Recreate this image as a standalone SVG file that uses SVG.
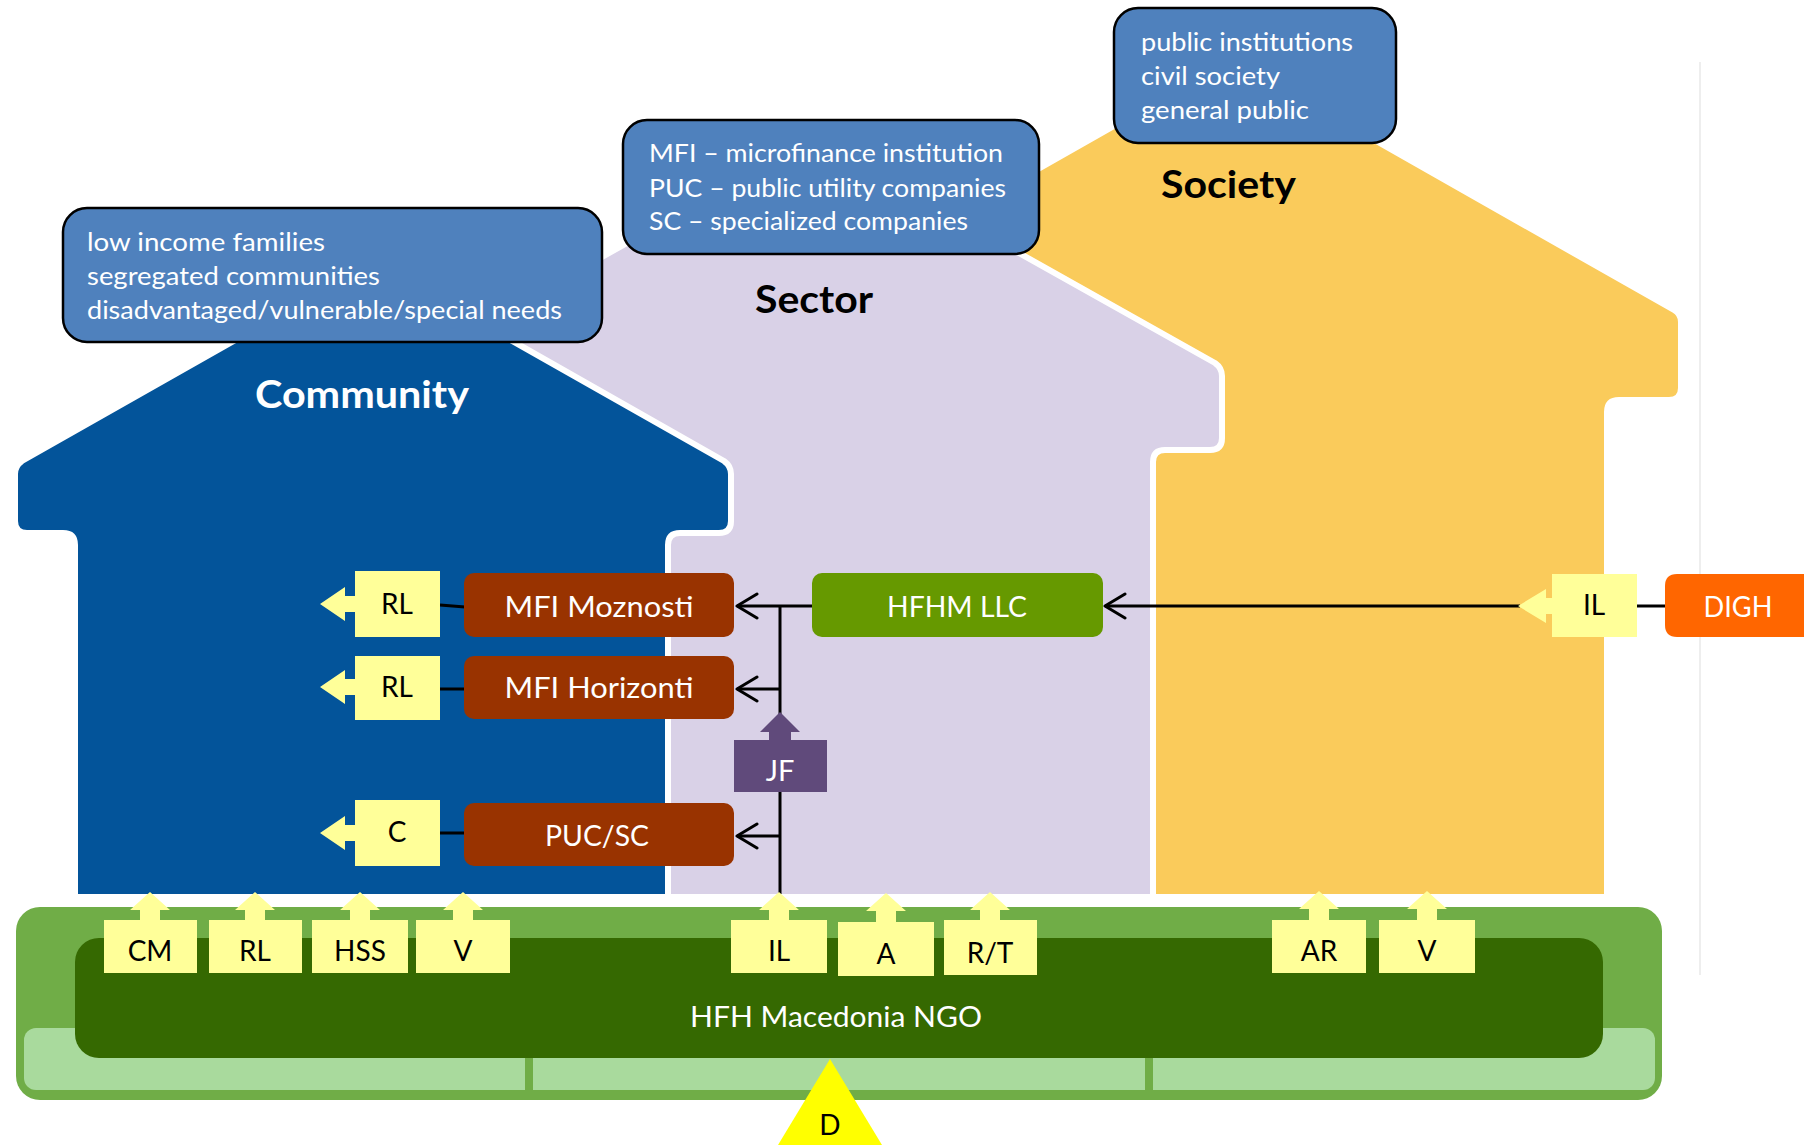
<svg xmlns="http://www.w3.org/2000/svg" width="1804" height="1145" viewBox="0 0 1804 1145">
<defs>
<style>
.house{stroke:#ffffff;stroke-width:6;stroke-linejoin:round}
.info{fill:#4F81BD;stroke:#000;stroke-width:2.5}
.infot{font-family:Lato,'Open Sans','DejaVu Sans',sans-serif;font-size:25px;fill:#fff}
.big{font-family:Lato,'Open Sans','DejaVu Sans',sans-serif;font-size:38px;font-weight:bold}
.lbl{font-family:Lato,'Open Sans','DejaVu Sans',sans-serif;font-size:29px;fill:#fff;text-anchor:middle}
.ylbl{font-family:Lato,'Open Sans','DejaVu Sans',sans-serif;font-size:28px;fill:#000;text-anchor:middle}
.ybox{fill:#FFFF99}
.mfi{fill:#993300}
.conn{stroke:#000;stroke-width:3;fill:none}
</style>
<marker id="chev" markerUnits="userSpaceOnUse" markerWidth="26" markerHeight="30" viewBox="0 0 26 30" refX="22" refY="15" orient="auto">
<path d="M2,3 L22,15 L2,27" fill="none" stroke="#000" stroke-width="3" stroke-linejoin="round" stroke-linecap="round"/>
</marker>
</defs>
<rect width="1804" height="1145" fill="#fff"/>
<line x1="1700" y1="62" x2="1700" y2="975" stroke="#eeeeee" stroke-width="2"/>

<g id="house-society">
<path class="house" fill="#FACB5B" d="M857,897 V412 Q857,400 845,400 H795 Q783,400 783,388 V322 Q783,314 790,310 L1232,59 L1674,310 Q1681,314 1681,322 V388 Q1681,400 1669,400 H1619 Q1607,400 1607,412 V897 Z"/>
</g>
<g id="house-sector">
<path class="house" fill="#D9D1E7" d="M475,897 V462 Q475,450 463,450 H418 Q406,450 406,438 V376 Q406,368 413,363 L814,138 L1215,363 Q1222,368 1222,376 V438 Q1222,450 1210,450 H1165 Q1153,450 1153,462 V897 Z"/>
</g>
<g id="house-community">
<path class="house" fill="#03549A" d="M75,897 V545 Q75,533 63,533 H27 Q15,533 15,521 V474 Q15,466 22,461 L373,262 L724,461 Q731,466 731,474 V521 Q731,533 719,533 H680 Q668,533 668,545 V897 Z"/>
</g>

<g id="info-community">
<rect class="info" x="63" y="208" width="539" height="134" rx="24"/>
<text class="infot" x="87" y="251" textLength="238" lengthAdjust="spacingAndGlyphs">low income families</text>
<text class="infot" x="87" y="285" textLength="293" lengthAdjust="spacingAndGlyphs">segregated communities</text>
<text class="infot" x="87" y="319" textLength="475" lengthAdjust="spacingAndGlyphs">disadvantaged/vulnerable/special needs</text>
</g>
<g id="info-sector">
<rect class="info" x="623" y="120" width="416" height="134" rx="24"/>
<text class="infot" x="649" y="162" textLength="354" lengthAdjust="spacingAndGlyphs">MFI – microfinance institution</text>
<text class="infot" x="649" y="197" textLength="357" lengthAdjust="spacingAndGlyphs">PUC – public utility companies</text>
<text class="infot" x="649" y="230" textLength="319" lengthAdjust="spacingAndGlyphs">SC – specialized companies</text>
</g>
<g id="info-society">
<rect class="info" x="1114" y="8" width="282" height="135" rx="24"/>
<text class="infot" x="1141" y="51" textLength="212" lengthAdjust="spacingAndGlyphs">public institutions</text>
<text class="infot" x="1141" y="85" textLength="139" lengthAdjust="spacingAndGlyphs">civil society</text>
<text class="infot" x="1141" y="119" textLength="168" lengthAdjust="spacingAndGlyphs">general public</text>
</g>

<g id="label-community"><text class="big" x="255" y="408" fill="#fff" textLength="214" lengthAdjust="spacingAndGlyphs">Community</text></g>
<g id="label-sector"><text class="big" x="755" y="313" fill="#000" textLength="118" lengthAdjust="spacingAndGlyphs">Sector</text></g>
<g id="label-society"><text class="big" x="1161" y="198" fill="#000" textLength="135" lengthAdjust="spacingAndGlyphs">Society</text></g>

<g id="hfh-macedonia-ngo">
<rect x="16" y="907" width="1646" height="193" rx="24" fill="#70AD47"/>
<rect x="24" y="1028" width="1631" height="62" rx="12" fill="#A9DA9D"/>
<rect x="525" y="1028" width="8" height="62" fill="#70AD47"/>
<rect x="1145" y="1028" width="8" height="62" fill="#70AD47"/>
<rect x="75" y="938" width="1528" height="120" rx="24" fill="#356901"/>
<text class="lbl" x="836" y="1027" font-size="30" textLength="292" lengthAdjust="spacingAndGlyphs">HFH Macedonia NGO</text>
</g>

<g id="connectors">
<line class="conn" x1="812" y1="606" x2="737" y2="606" marker-end="url(#chev)"/>
<line class="conn" x1="780" y1="606" x2="780" y2="716"/>
<line class="conn" x1="780" y1="790" x2="780" y2="894"/>
<line class="conn" x1="781" y1="689" x2="737" y2="689" marker-end="url(#chev)"/>
<line class="conn" x1="781" y1="836" x2="737" y2="836" marker-end="url(#chev)"/>
<line class="conn" x1="1520" y1="606" x2="1105" y2="606" marker-end="url(#chev)"/>
<line class="conn" x1="1637" y1="606" x2="1666" y2="606"/>
<line class="conn" x1="440" y1="605" x2="465" y2="607"/>
<line class="conn" x1="440" y1="689" x2="465" y2="689"/>
<line class="conn" x1="440" y1="833" x2="465" y2="833"/>
</g>

<g id="mfi-moznosti"><rect class="mfi" x="464" y="573" width="270" height="64" rx="10"/><text class="lbl" x="599" y="617" textLength="189" lengthAdjust="spacingAndGlyphs">MFI Moznosti</text></g>
<g id="mfi-horizonti"><rect class="mfi" x="464" y="656" width="270" height="63" rx="10"/><text class="lbl" x="599" y="698" textLength="189" lengthAdjust="spacingAndGlyphs">MFI Horizonti</text></g>
<g id="puc-sc"><rect class="mfi" x="464" y="803" width="270" height="63" rx="10"/><text class="lbl" x="597" y="846" textLength="104" lengthAdjust="spacingAndGlyphs">PUC/SC</text></g>
<g id="hfhm-llc"><rect x="812" y="573" width="291" height="64" rx="10" fill="#669900"/><text class="lbl" x="957" y="617" textLength="140" lengthAdjust="spacingAndGlyphs">HFHM LLC</text></g>
<g id="digh"><path d="M1677,574 H1804 V637 H1677 Q1665,637 1665,625 V586 Q1665,574 1677,574 Z" fill="#FF6600"/><text class="lbl" x="1738" y="617" textLength="69" lengthAdjust="spacingAndGlyphs">DIGH</text></g>
<g id="jf">
<polygon points="780,712 800,732 791,732 791,741 769,741 769,732 760,732" fill="#604A7B"/>
<rect x="734" y="740" width="93" height="52" fill="#604A7B"/>
<text class="lbl" x="780" y="781">JF</text>
</g>

<g id="rl-1"><polygon class="ybox" points="320,604 345,587 345,596 356,596 356,612 345,612 345,621"/><rect class="ybox" x="355" y="571" width="85" height="66"/><text class="ylbl" x="397" y="614">RL</text></g>
<g id="rl-2"><polygon class="ybox" points="320,687 345,670 345,679 356,679 356,695 345,695 345,704"/><rect class="ybox" x="355" y="656" width="85" height="64"/><text class="ylbl" x="397" y="697">RL</text></g>
<g id="c"><polygon class="ybox" points="320,833 345,816 345,825 356,825 356,841 345,841 345,850"/><rect class="ybox" x="355" y="800" width="85" height="66"/><text class="ylbl" x="397" y="842">C</text></g>
<g id="il-right"><polygon class="ybox" points="1518,606 1546,589 1546,598 1553,598 1553,614 1546,614 1546,623"/><rect class="ybox" x="1552" y="574" width="85" height="63"/><text class="ylbl" x="1594" y="615">IL</text></g>

<g id="cm"><polygon class="ybox" points="150,892 170,910 160,910 160,921 140,921 140,910 130,910"/><rect class="ybox" x="104" y="920" width="93" height="53"/><text class="ylbl" x="150" y="961">CM</text></g>
<g id="rl-bottom"><polygon class="ybox" points="255,892 275,910 265,910 265,921 245,921 245,910 235,910"/><rect class="ybox" x="209" y="920" width="93" height="53"/><text class="ylbl" x="255" y="961">RL</text></g>
<g id="hss"><polygon class="ybox" points="360,892 380,910 370,910 370,921 350,921 350,910 340,910"/><rect class="ybox" x="312" y="920" width="96" height="53"/><text class="ylbl" x="360" y="961">HSS</text></g>
<g id="v-left"><polygon class="ybox" points="463,892 483,910 473,910 473,921 453,921 453,910 443,910"/><rect class="ybox" x="416" y="920" width="94" height="53"/><text class="ylbl" x="463" y="961">V</text></g>
<g id="il-bottom"><polygon class="ybox" points="779,892 799,910 789,910 789,921 769,921 769,910 759,910"/><rect class="ybox" x="731" y="920" width="96" height="53"/><text class="ylbl" x="779" y="961">IL</text></g>
<g id="a"><polygon class="ybox" points="886,893 906,911 896,911 896,923 876,923 876,911 866,911"/><rect class="ybox" x="838" y="922" width="96" height="54"/><text class="ylbl" x="886" y="964">A</text></g>
<g id="rt"><polygon class="ybox" points="990,892 1010,910 1000,910 1000,921 980,921 980,910 970,910"/><rect class="ybox" x="944" y="920" width="93" height="55"/><text class="ylbl" x="990" y="963">R/T</text></g>
<g id="ar"><polygon class="ybox" points="1319,891 1339,909 1329,909 1329,921 1309,921 1309,909 1299,909"/><rect class="ybox" x="1272" y="920" width="94" height="53"/><text class="ylbl" x="1319" y="961">AR</text></g>
<g id="v-right"><polygon class="ybox" points="1427,891 1447,909 1437,909 1437,921 1417,921 1417,909 1407,909"/><rect class="ybox" x="1379" y="920" width="96" height="53"/><text class="ylbl" x="1427" y="961">V</text></g>

<g id="d"><polygon points="830,1059 882,1145 778,1145" fill="#FFFF00"/><text class="ylbl" x="830" y="1135">D</text></g>
</svg>
